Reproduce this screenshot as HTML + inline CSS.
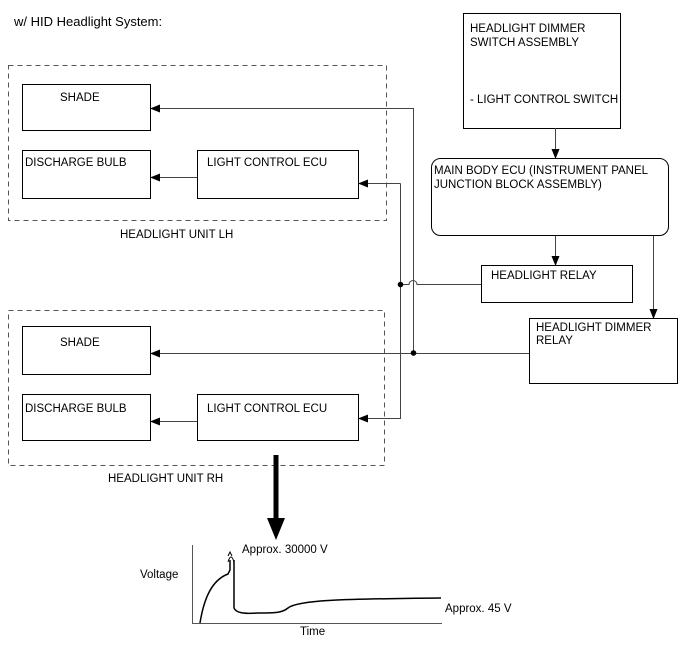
<!DOCTYPE html>
<html><head><style>
body{margin:0;background:#fff;}
svg text{font-family:"Liberation Sans",sans-serif;font-size:11.5px;fill:#000;}
</style></head><body>
<svg width="688" height="658" viewBox="0 0 688 658" xmlns="http://www.w3.org/2000/svg">
<defs><marker id="a" markerWidth="10" markerHeight="8" refX="9" refY="4" orient="auto" markerUnits="userSpaceOnUse"><path d="M0,0 L10,4 L0,8 z" fill="#000"/></marker></defs>
<text x="14" y="26" style="font-size:13px">w/ HID Headlight System:</text>
<g fill="none" stroke="#555" stroke-dasharray="5,4">
<rect x="8.5" y="65.5" width="378" height="155"/>
<rect x="8.5" y="310.5" width="376" height="155"/>
</g>
<text x="120" y="238">HEADLIGHT UNIT LH</text>
<text x="108" y="482">HEADLIGHT UNIT RH</text>
<g fill="none" stroke="#000">
<rect x="22.5" y="84.5" width="128" height="46"/>
<rect x="22.5" y="150.5" width="128" height="48"/>
<rect x="197.5" y="150.5" width="161" height="48"/>
<rect x="22.5" y="326.5" width="128" height="48"/>
<rect x="22.5" y="394.5" width="128" height="46"/>
<rect x="197.5" y="394.5" width="161" height="46"/>
<rect x="463.5" y="13.5" width="157" height="115"/>
<rect x="431.5" y="158.5" width="237" height="77" rx="9"/>
<rect x="481.5" y="265.5" width="151" height="37"/>
<rect x="529.5" y="318.5" width="148" height="65"/>
</g>
<text x="60" y="101">SHADE</text>
<text x="25" y="166">DISCHARGE BULB</text>
<text x="207" y="166">LIGHT CONTROL ECU</text>
<text x="60" y="346">SHADE</text>
<text x="25" y="412">DISCHARGE BULB</text>
<text x="207" y="412">LIGHT CONTROL ECU</text>
<text x="470" y="32">HEADLIGHT DIMMER</text>
<text x="470" y="46">SWITCH ASSEMBLY</text>
<text x="470" y="103">- LIGHT CONTROL SWITCH</text>
<text x="434" y="174">MAIN BODY ECU (INSTRUMENT PANEL</text>
<text x="434" y="188">JUNCTION BLOCK ASSEMBLY)</text>
<text x="491" y="279">HEADLIGHT RELAY</text>
<text x="536" y="331">HEADLIGHT DIMMER</text>
<text x="536" y="344">RELAY</text>
<g fill="none" stroke="#444" stroke-width="1">
<path d="M197,177.5 H151" marker-end="url(#a)"/>
<path d="M197,421.5 H151" marker-end="url(#a)"/>
<path d="M413.5,353 V108.5 H151" marker-end="url(#a)"/>
<path d="M529,353.5 H151" marker-end="url(#a)"/>
<path d="M400.5,183.5 H359" marker-end="url(#a)"/>
<path d="M400.5,183.5 V418.5 H359" marker-end="url(#a)"/>
<path d="M400.5,284.5 H409 A4,4 0 0 1 417,284.5 H481"/>
<path d="M555.5,128 V158" marker-end="url(#a)"/>
<path d="M555.5,236 V265" marker-end="url(#a)"/>
<path d="M653.5,236 V318" marker-end="url(#a)"/>
</g>
<circle cx="400.5" cy="284.5" r="2.8" fill="#000"/>
<circle cx="413.5" cy="353" r="2.8" fill="#000"/>
<path d="M276,455 V522" stroke="#000" stroke-width="5"/>
<path d="M267,518 L285,518 L276,540 z" fill="#000"/>
<g fill="none" stroke="#000">
<path d="M192.5,545 V623.5 H442" stroke="#555"/>
<path d="M200,623 C204,598 212,580 228,574 L230,570 L230,560 M234,560 L234,608 C236,613 244,614 258,613 C275,613 282,613 288,608 C298,600 340,599 441,598" stroke-width="1.5"/>
<path d="M228,562 Q231,552 234,562 M228,556 l2,-4 l2,4" stroke-width="1"/>
</g>
<text x="140" y="578">Voltage</text>
<text x="242" y="553">Approx. 30000 V</text>
<text x="445" y="612">Approx. 45 V</text>
<text x="300" y="635">Time</text>
</svg>
</body></html>
